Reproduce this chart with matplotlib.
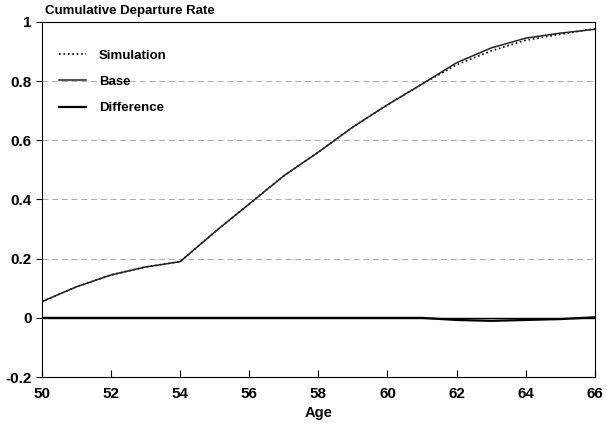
import matplotlib.pyplot as plt

plt.rcParams['font.family'] = ['Liberation Sans', 'DejaVu Sans']
plt.rcParams['font.weight'] = 'bold'

ages = [50, 51, 52, 53, 54, 55, 56, 57, 58, 59, 60, 61, 62, 63, 64, 65, 66]
base = [0.055, 0.105, 0.145, 0.172, 0.19, 0.29, 0.385, 0.48, 0.56, 0.645, 0.72, 0.79,
        0.862, 0.912, 0.945, 0.962, 0.975]
simulation = [0.055, 0.105, 0.145, 0.172, 0.19, 0.29, 0.385, 0.48, 0.56, 0.645, 0.72, 0.79,
              0.855, 0.902, 0.938, 0.958, 0.977]
difference = [s - b for s, b in zip(simulation, base)]

fig = plt.figure(figsize=(6.07, 4.29), dpi=100)
ax = fig.add_axes([0.069, 0.121, 0.911, 0.828])

for g in [0.2, 0.4, 0.6, 0.8]:
    ax.axhline(g, color='#aaaaaa', lw=0.7, ls=(0, (6, 4)), zorder=0)
ax.axhline(0, color='black', lw=1.0, zorder=0)

ax.plot(ages, simulation, color='black', lw=1.2, ls=':', label='Simulation')
ax.plot(ages, base, color='#222222', lw=1.1, label='Base')
ax.plot(ages, difference, color='black', lw=1.6, label='Difference')

ax.set_xlim(50, 66)
ax.set_ylim(-0.2, 1)
ax.set_xticks(range(50, 67, 2))
ax.set_yticks([-0.2, 0, 0.2, 0.4, 0.6, 0.8, 1])
ax.set_yticklabels(['-0.2', '0', '0.2', '0.4', '0.6', '0.8', '1'])
ax.tick_params(axis='x', direction='in', length=5, labelsize=11, pad=7)
ax.tick_params(axis='y', direction='out', length=4, labelsize=11)
ax.set_xlabel('Age', fontsize=10.5, fontweight='bold')
ax.text(0.005, 1.015, 'Cumulative Departure Rate', transform=ax.transAxes,
        fontsize=9.5, fontweight='bold', ha='left', va='bottom')

ax.legend(loc='upper left', frameon=False, fontsize=9.5, handlelength=2.0,
          handletextpad=1.0, bbox_to_anchor=(0.01, 0.955), labelspacing=1.05)

fig.savefig('out.png', dpi=100)
